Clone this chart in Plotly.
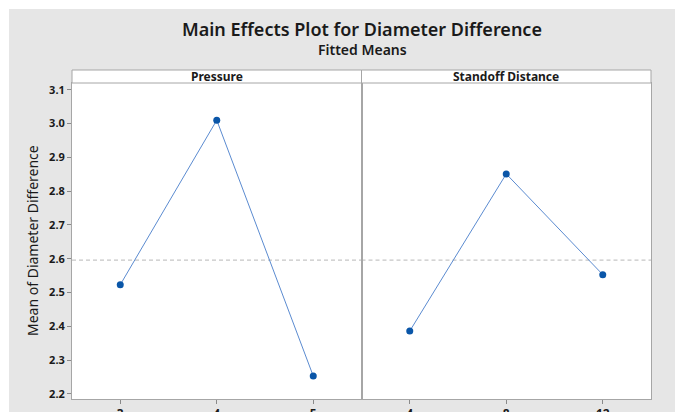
import numpy as np
import plotly.graph_objects as go

pressure_levels = ["3", "4", "5"]
pressure_means = [2.523, 3.010, 2.253]
standoff_levels = ["4", "8", "12"]
standoff_means = [2.386, 2.851, 2.553]
y_ticks = [2.2, 2.3, 2.4, 2.5, 2.6, 2.7, 2.8, 2.9, 3.0, 3.1]

grand_mean = float(np.mean(pressure_means + standoff_means))

W, H = 675, 412
L, R, T, B = 72, W - 651, 83, H - 399
pw = W - L - R
ph = H - T - B

def px(p):  # page pixel -> paper x
    return (p - L) / pw

def py(p):  # page pixel -> paper y
    return (H - B - p) / ph

FONT = "Noto Sans"
line_col = "#5b8bd0"
mk_col = "#0a56a8"
border = "#a6a6a6"
bg = "#e6e6e6"

fig = go.Figure()
fig.add_trace(go.Scatter(x=pressure_levels, y=pressure_means, mode="lines+markers",
                         line=dict(color=line_col, width=1),
                         marker=dict(color=mk_col, size=7),
                         xaxis="x", yaxis="y", showlegend=False, hoverinfo="skip"))
fig.add_trace(go.Scatter(x=standoff_levels, y=standoff_means, mode="lines+markers",
                         line=dict(color=line_col, width=1),
                         marker=dict(color=mk_col, size=7),
                         xaxis="x2", yaxis="y2", showlegend=False, hoverinfo="skip"))

yr = [2.185, 3.12]
ax_common = dict(showline=True, linecolor=border, linewidth=1, mirror=True,
                 showgrid=False, zeroline=False, automargin=False)
fig.update_layout(
    width=W, height=H,
    margin=dict(l=L, r=R, t=T, b=B, autoexpand=False),
    paper_bgcolor=bg, plot_bgcolor="white",
    font=dict(family=FONT, color="#1a1a1a"),
    xaxis=dict(domain=[0, 0.5], type="category", range=[-0.5, 2.5],
               ticks="outside", ticklen=4, tickcolor="#8a8a8a",
               tickfont=dict(size=12, color="#1a1a1a", weight="bold"), **ax_common),
    xaxis2=dict(domain=[0.5, 1], type="category", range=[-0.5, 2.5], anchor="y2",
                ticks="outside", ticklen=4, tickcolor="#8a8a8a",
                tickfont=dict(size=12, color="#1a1a1a", weight="bold"), **ax_common),
    yaxis=dict(range=yr, tickvals=y_ticks, ticktext=[f"{v:.1f}" for v in y_ticks],
               ticks="outside", ticklen=4, tickcolor="#8a8a8a",
               tickfont=dict(size=11, color="#1a1a1a", weight="bold"), **ax_common),
    yaxis2=dict(range=yr, anchor="x2", matches="y", showticklabels=False,
                ticks="", **ax_common),
)

shapes = []
# white page edges (top and left)
shapes.append(dict(type="rect", xref="paper", yref="paper", x0=px(0), x1=px(W),
                   y0=py(9), y1=py(0), fillcolor="white", line=dict(width=0), layer="below"))
shapes.append(dict(type="rect", xref="paper", yref="paper", x0=px(0), x1=px(9),
                   y0=py(H), y1=py(0), fillcolor="white", line=dict(width=0), layer="below"))
# strips
for x0, x1 in [(0, 0.5), (0.5, 1)]:
    shapes.append(dict(type="rect", xref="paper", yref="paper", x0=x0, x1=x1,
                       y0=1, y1=py(70), fillcolor="white",
                       line=dict(color=border, width=1)))
# grand mean reference line
for xr, yrf in [("x domain", "y"), ("x2 domain", "y2")]:
    shapes.append(dict(type="line", xref=xr, yref=yrf, x0=0, x1=1,
                       y0=grand_mean, y1=grand_mean,
                       line=dict(color="#b8b8b8", width=1, dash="4px,3px"), layer="below"))
fig.update_layout(shapes=shapes)

ann = []
ann.append(dict(text="Main Effects Plot for Diameter Difference", xref="paper", yref="paper",
                x=px(362), y=py(29), showarrow=False, xanchor="center", yanchor="middle",
                font=dict(size=18, color="#1a1a1a", weight=600)))
ann.append(dict(text="Fitted Means", xref="paper", yref="paper",
                x=px(362), y=py(49), showarrow=False, xanchor="center", yanchor="middle",
                font=dict(size=14, color="#1a1a1a", weight=600)))
ann.append(dict(text="Pressure", xref="paper", yref="paper", x=0.25, y=py(76),
                showarrow=False, xanchor="center", yanchor="middle",
                font=dict(size=12, color="#1a1a1a", weight="bold")))
ann.append(dict(text="Standoff Distance", xref="paper", yref="paper", x=0.75, y=py(76),
                showarrow=False, xanchor="center", yanchor="middle",
                font=dict(size=12, color="#1a1a1a", weight="bold")))
ann.append(dict(text="Mean of Diameter Difference", xref="paper", yref="paper",
                x=px(32), y=0.5, textangle=-90, showarrow=False,
                xanchor="center", yanchor="middle",
                font=dict(size=14, color="#1a1a1a")))
fig.update_layout(annotations=ann)

fig.write_html("out.html",
               config={"displayModeBar": False, "staticPlot": True},
               post_script="document.body.style.margin='0';"
                           "document.body.style.background='" + bg + "';"
                           "document.documentElement.style.background='" + bg + "';"
                           "document.body.style.overflow='hidden';"
                           "document.documentElement.style.overflow='hidden';")
